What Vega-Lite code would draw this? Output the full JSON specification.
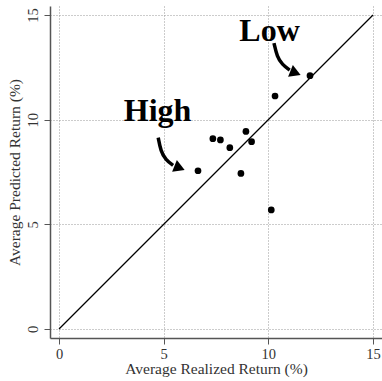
{
  "$schema": "https://vega.github.io/schema/vega-lite/v6.json",
  "width": 332,
  "height": 332,
  "autosize": "none",
  "padding": {"left": 50, "top": 6, "right": 0, "bottom": 43},
  "background": "white",
  "config": {
    "view": {"stroke": null},
    "axis": {
      "labelFont": "Liberation Serif",
      "titleFont": "Liberation Serif",
      "labelFontSize": 14.5,
      "titleFontSize": 15.5,
      "titleFontWeight": "normal",
      "labelColor": "#333",
      "titleColor": "#333",
      "domainColor": "#555",
      "domainWidth": 1.5,
      "tickColor": "#555",
      "tickSize": 6,
      "tickWidth": 1,
      "gridColor": "#999",
      "gridDash": [1, 2],
      "gridWidth": 1,
      "gridOpacity": 1
    }
  },
  "datasets": {
    "pts": [
      {"realized": 11.99, "predicted": 12.1},
      {"realized": 10.32, "predicted": 11.13},
      {"realized": 8.93, "predicted": 9.44},
      {"realized": 9.2, "predicted": 8.95},
      {"realized": 7.35, "predicted": 9.09},
      {"realized": 7.71, "predicted": 9.03},
      {"realized": 8.16, "predicted": 8.66},
      {"realized": 6.64, "predicted": 7.56},
      {"realized": 8.69, "predicted": 7.43},
      {"realized": 10.14, "predicted": 5.69}
    ],
    "diag": [
      {"realized": 0, "predicted": 0},
      {"realized": 15, "predicted": 15}
    ],
    "arrows": [
      {"arrow": "High", "order": 1, "realized": 4.74, "predicted": 9.14},
      {"arrow": "High", "order": 2, "realized": 4.86, "predicted": 8.5},
      {"arrow": "High", "order": 3, "realized": 5.1, "predicted": 8.07},
      {"arrow": "High", "order": 4, "realized": 5.45, "predicted": 7.82},
      {"arrow": "Low", "order": 1, "realized": 10.27, "predicted": 13.66},
      {"arrow": "Low", "order": 2, "realized": 10.42, "predicted": 13.0},
      {"arrow": "Low", "order": 3, "realized": 10.66, "predicted": 12.64},
      {"arrow": "Low", "order": 4, "realized": 11.02, "predicted": 12.37}
    ],
    "heads": [
      {"arrow": "High", "realized": 5.76, "predicted": 7.69},
      {"arrow": "Low", "realized": 11.3, "predicted": 12.23}
    ],
    "labels": [
      {"label": "High", "realized": 4.71, "predicted": 9.95},
      {"label": "Low", "realized": 10.06, "predicted": 13.77}
    ]
  },
  "encoding": {
    "x": {
      "field": "realized",
      "type": "quantitative",
      "scale": {"domain": [-0.43, 15.43], "nice": false, "zero": false},
      "axis": {"values": [0, 5, 10, 15], "title": "Average Realized Return (%)", "labelPadding": 3, "titlePadding": 1}
    },
    "y": {
      "field": "predicted",
      "type": "quantitative",
      "scale": {"domain": [-0.43, 15.43], "nice": false, "zero": false},
      "axis": {"values": [0, 5, 10, 15], "title": "Average Predicted Return (%)", "labelAngle": -90, "labelAlign": "center", "labelBaseline": "bottom", "labelPadding": 4, "titlePadding": 3}
    }
  },
  "layer": [
    {
      "data": {"name": "diag"},
      "mark": {"type": "line", "color": "black", "strokeWidth": 1.2}
    },
    {
      "data": {"name": "pts"},
      "mark": {"type": "circle", "color": "black", "opacity": 1, "size": 45}
    },
    {
      "data": {"name": "arrows"},
      "mark": {"type": "line", "color": "black", "strokeWidth": 3.5, "interpolate": "basis"},
      "encoding": {"detail": {"field": "arrow"}, "order": {"field": "order"}}
    },
    {
      "data": {"name": "heads"},
      "mark": {"type": "point", "shape": "triangle-right", "filled": true, "color": "black", "opacity": 1, "size": 160, "angle": 22}
    },
    {
      "data": {"name": "labels"},
      "mark": {"type": "text", "font": "Liberation Serif", "fontWeight": "bold", "fontSize": 32, "color": "black", "baseline": "alphabetic", "align": "center"},
      "encoding": {"text": {"field": "label"}}
    }
  ]
}
